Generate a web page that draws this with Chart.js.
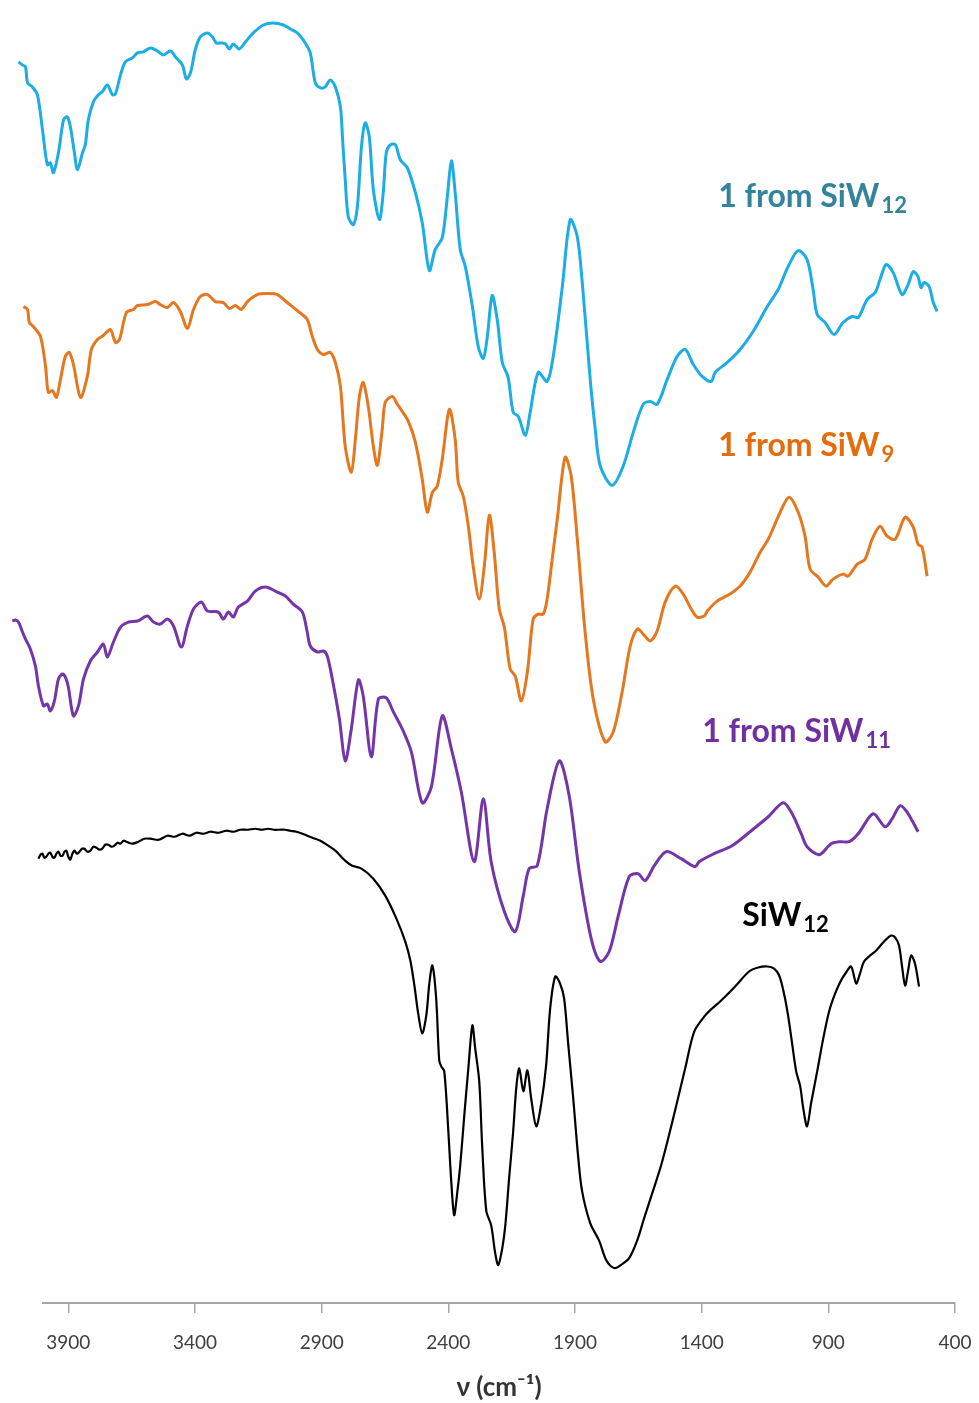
<!DOCTYPE html>
<html>
<head>
<meta charset="utf-8">
<script src="https://cdn.jsdelivr.net/npm/chart.js@4.4.1/dist/chart.umd.min.js"></script>
<style>
  html, body { margin: 0; padding: 0; background: #ffffff; }
  #wrap { width: 979px; height: 1403px; position: relative; }
</style>
</head>
<body>
<div id="wrap"><canvas id="ir"></canvas></div>
<script>
// FT-IR spectra, stacked with vertical offsets (transmittance, arbitrary units)
const tickWavenumbers = [3900, 3400, 2900, 2400, 1900, 1400, 900, 400];

// 1 from SiW12
const wnFromSiW12 = [4097,4081,4069,4061,4042,4022,4002,3983,3971,3959,3939,3919,3904,3892,3876,3864,3844,3833,3821,3801,3781,3766,3746,3726,3714,3694,3675,3647,3627,3604,3576,3549,3525,3497,3477,3450,3434,3418,3399,3379,3351,3331,3316,3292,3280,3264,3249,3225,3201,3170,3130,3091,3051,3024,2996,2965,2945,2925,2905,2886,2866,2846,2826,2818,2807,2795,2775,2759,2743,2728,2712,2696,2672,2657,2645,2629,2609,2590,2562,2530,2503,2475,2452,2424,2404,2388,2373,2353,2333,2305,2282,2262,2246,2227,2207,2187,2164,2144,2124,2096,2077,2045,2010,1986,1950,1919,1891,1868,1840,1820,1800,1753,1710,1670,1631,1603,1576,1536,1497,1465,1433,1398,1362,1347,1299,1248,1197,1141,1098,1059,1019,984,960,944,913,877,842,806,782,747,715,696,672,644,609,585,565,546,534,522,502,487,471];
const tFromSiW12 = [124.3,124.0,123.8,122.2,121.8,121.0,117.5,114.0,114.2,113.2,115.2,118.5,118.8,117.8,115.2,113.5,115.2,116.0,118.5,120.3,121.0,121.3,122.0,121.0,121.1,123.0,124.3,124.7,125.2,125.3,125.7,125.4,125.0,125.4,124.8,124.0,122.6,123.2,125.5,126.8,127.2,126.8,126.2,126.2,126.1,125.6,126.1,125.6,126.3,127.2,128.0,128.2,128.0,127.6,127.2,126.2,125.2,122.2,121.7,121.8,122.5,121.8,119.8,116.8,112.5,108.8,108.0,109.8,115.8,118.2,116.8,111.5,108.5,111.2,115.2,116.0,116.0,114.5,113.7,111.2,108.2,103.4,105.5,106.7,110.8,114.4,111.2,105.5,103.8,99.8,95.8,94.6,96.8,100.9,98.5,94.2,92.7,89.2,88.8,86.9,89.2,93.2,92.3,94.8,101.8,108.5,106.8,101.2,92.5,87.5,83.8,81.9,83.8,87.2,90.0,90.3,90.0,92.5,94.8,95.5,94.0,92.8,92.3,93.2,94.2,95.5,97.3,99.8,101.5,103.8,105.4,104.5,101.5,99.0,98.2,97.0,98.2,98.8,98.7,100.5,101.2,102.5,104.0,103.2,101.0,102.0,103.3,102.8,101.7,102.2,101.8,100.3,99.3];

// 1 from SiW9
const wnFromSiW9 = [4077,4061,4054,4038,4010,3990,3979,3963,3947,3931,3912,3896,3880,3852,3825,3809,3785,3762,3734,3714,3698,3671,3643,3627,3588,3556,3537,3509,3485,3458,3430,3406,3379,3351,3320,3288,3264,3241,3217,3193,3154,3114,3075,3036,2992,2957,2937,2917,2893,2866,2846,2826,2807,2783,2767,2751,2736,2716,2696,2680,2661,2649,2621,2601,2582,2558,2530,2503,2483,2463,2444,2424,2396,2373,2361,2341,2321,2302,2278,2258,2238,2219,2199,2179,2156,2136,2112,2088,2065,2045,2025,2010,1990,1970,1939,1915,1891,1860,1828,1781,1749,1714,1682,1654,1631,1603,1576,1544,1504,1473,1441,1418,1390,1378,1339,1288,1248,1209,1169,1137,1090,1055,1019,992,972,940,909,881,842,822,786,755,727,696,668,636,597,565,546,530,510];
const tFromSiW9 = [99.8,99.5,98.2,97.8,96.8,93.8,91.2,91.4,90.7,92.5,94.8,95.2,94.0,90.7,92.8,95.5,96.5,96.9,97.5,96.2,96.5,99.2,99.5,99.9,100.0,100.3,100.0,99.7,100.2,99.3,97.6,99.5,100.8,101.0,100.3,100.2,99.6,99.9,99.5,100.3,101.0,101.1,101.0,100.2,99.3,98.5,96.8,95.5,95.0,95.2,94.2,91.8,85.8,83.2,86.5,90.8,92.2,89.8,85.8,83.9,87.5,90.2,90.8,90.0,89.3,88.3,86.2,82.5,79.2,81.2,81.8,84.5,89.5,86.5,82.2,80.8,77.8,73.8,70.5,73.8,78.9,75.2,69.5,67.7,63.5,62.8,60.3,63.2,68.5,69.0,69.0,70.5,74.5,78.5,84.7,82.8,76.5,67.2,60.5,56.2,57.2,61.2,65.8,67.5,67.0,66.3,67.3,70.2,71.8,71.0,69.5,68.7,68.8,69.3,70.3,71.0,71.8,73.2,75.2,76.5,79.2,80.7,79.2,76.8,73.5,72.7,71.8,72.5,73.0,72.8,74.0,74.5,76.5,77.8,76.8,76.5,78.7,77.7,76.0,75.7,72.8];

// 1 from SiW11
const wnFromSiW11 = [4121,4109,4097,4081,4069,4050,4030,4018,3998,3983,3971,3955,3939,3923,3912,3900,3880,3860,3840,3813,3785,3762,3746,3722,3694,3663,3627,3588,3564,3537,3509,3485,3454,3430,3406,3375,3351,3308,3288,3268,3249,3229,3193,3162,3122,3083,3043,3012,2976,2957,2945,2917,2893,2878,2858,2830,2807,2783,2755,2736,2704,2676,2645,2617,2582,2546,2503,2467,2424,2388,2349,2298,2262,2231,2179,2136,2104,2081,2049,2010,1962,1923,1883,1836,1800,1765,1729,1686,1651,1623,1587,1540,1481,1426,1410,1351,1280,1209,1137,1078,1043,1007,984,936,889,853,818,782,723,676,648,617,593,569,546];
const tFromSiW11 = [68.3,68.4,68.2,67.2,66.5,65.5,63.8,61.8,59.8,60.0,59.3,60.3,62.5,63.0,62.7,61.7,58.8,59.8,62.5,64.3,65.2,66.0,64.7,66.2,67.7,68.2,68.3,68.8,68.2,68.0,68.5,67.8,65.7,67.8,69.5,70.2,69.3,69.2,68.5,69.2,68.7,69.7,70.3,71.3,71.7,71.3,70.8,70.0,69.2,67.2,65.8,65.2,65.3,64.8,62.5,58.5,54.3,57.5,62.4,60.8,54.7,60.5,60.6,59.2,57.5,55.2,50.1,51.7,58.8,55.5,51.2,44.2,50.5,44.2,39.2,37.2,40.8,43.5,43.8,49.5,54.3,50.8,43.2,36.5,34.2,35.2,38.8,42.7,43.0,42.3,43.8,45.2,44.5,43.7,44.2,45.0,45.8,47.2,48.7,50.1,49.0,47.0,45.7,44.9,46.0,46.2,46.2,47.0,49.0,47.7,48.5,49.8,49.3,48.3,47.2];

// SiW12 (noisy baseline above 3000 cm-1)
const wnSiW12 = [4018,4010,4002,3995,3987,3979,3971,3963,3955,3947,3939,3931,3923,3915,3908,3900,3892,3884,3876,3866,3856,3846,3837,3825,3813,3801,3789,3777,3766,3754,3742,3730,3718,3706,3694,3682,3671,3647,3623,3600,3576,3543,3509,3480,3450,3422,3395,3367,3339,3308,3276,3248,3221,3191,3162,3137,3111,3089,3067,3045,3024,3000,2976,2937,2905,2874,2846,2803,2779,2743,2696,2649,2605,2570,2550,2534,2519,2503,2487,2475,2463,2448,2436,2428,2416,2400,2388,2377,2365,2353,2337,2321,2305,2294,2278,2266,2250,2231,2215,2203,2187,2175,2160,2144,2132,2120,2104,2088,2073,2053,2033,2014,1998,1978,1959,1943,1927,1907,1887,1872,1840,1804,1777,1745,1714,1686,1654,1627,1595,1560,1532,1500,1465,1429,1386,1359,1327,1268,1213,1177,1141,1114,1094,1075,1059,1043,1027,1011,999,984,968,944,920,897,873,850,830,810,790,775,759,735,711,680,652,636,621,609,597,585,573,558,542];
const tSiW12 = [44.5,44.9,45.0,44.6,44.7,45.0,45.1,44.7,44.6,45.0,45.2,44.8,44.8,45.2,45.3,44.7,44.4,45.0,45.3,45.0,45.2,45.5,45.5,45.2,45.3,45.7,45.6,45.4,45.5,45.9,45.9,45.7,45.8,46.1,46.0,46.3,46.2,46.0,46.2,46.5,46.5,46.4,46.8,46.7,47.0,46.8,47.1,47.0,47.2,47.1,47.3,47.2,47.4,47.4,47.5,47.4,47.5,47.4,47.4,47.4,47.3,47.2,47.0,46.6,46.3,45.8,45.3,44.2,43.8,43.5,42.5,40.8,38.5,36.2,34.3,31.8,29.0,27.0,28.8,32.0,33.8,30.5,24.3,23.7,23.2,17.2,12.0,8.8,11.0,13.8,18.8,23.5,27.8,25.5,22.2,15.5,9.2,7.8,5.0,3.8,5.5,7.8,12.5,17.2,21.5,23.5,21.2,23.3,20.5,17.7,20.0,23.8,29.5,32.7,32.0,30.5,26.0,20.5,14.5,11.2,8.0,6.2,4.3,3.5,3.9,4.5,6.3,8.5,11.0,13.8,16.5,19.8,23.5,27.2,28.8,29.5,30.2,31.7,33.2,33.6,33.7,33.5,32.8,31.0,28.8,26.0,23.2,21.7,19.5,17.7,20.0,23.2,26.5,29.2,31.0,32.3,33.1,33.7,32.0,33.0,34.2,34.8,35.3,36.2,36.8,36.6,35.8,33.7,31.8,33.3,34.8,34.0,31.7];

// series names, colours and label anchors (wavenumber, baseline value)
const seriesNames = ['1 from SiW12', '1 from SiW9', '1 from SiW11', 'SiW12'];
const lineColors = ['#1CADE4', '#E5771E', '#7435A8', '#000000'];
const labelColors = ['#31849B', '#E46C0A', '#7030A0', '#000000'];
const labelMain = ['1 from SiW', '1 from SiW', '1 from SiW', 'SiW'];
const labelSub = ['12', '9', '11', '12'];
const labelWn = [1335, 1335, 1398, 1240];
const labelT = [109.8, 84.8, 56.2, 37.8];

const pairs = (xs, ys) => xs.map((x, i) => ({ x: x, y: ys[i] }));
const seriesData = [
  pairs(wnFromSiW12, tFromSiW12),
  pairs(wnFromSiW9, tFromSiW9),
  pairs(wnFromSiW11, tFromSiW11),
  pairs(wnSiW12, tSiW12)
];

const spectrumLabels = {
  id: 'spectrumLabels',
  afterDatasetsDraw(chart) {
    const ctx = chart.ctx;
    const xs = chart.scales.x, ys = chart.scales.y;
    ctx.save();
    ctx.textBaseline = 'alphabetic';
    ctx.textAlign = 'left';
    for (let i = 0; i < labelMain.length; i++) {
      const px = xs.getPixelForValue(labelWn[i]);
      const py = ys.getPixelForValue(labelT[i]);
      ctx.fillStyle = labelColors[i];
      ctx.font = 'bold 32px Lato';
      ctx.fillText(labelMain[i], px, py);
      const w = ctx.measureText(labelMain[i]).width;
      ctx.font = 'bold 22px Lato';
      ctx.fillText(labelSub[i], px + w + 2, py + 6);
    }
    ctx.restore();
  }
};

new Chart(document.getElementById('ir'), {
  type: 'line',
  data: {
    datasets: seriesData.map((d, i) => ({
      label: seriesNames[i],
      data: d,
      borderColor: lineColors[i],
      borderWidth: i === 3 ? 2.2 : 3,
      pointRadius: 0,
      tension: 0.3,
      fill: false,
      clip: false
    }))
  },
  options: {
    responsive: true,
    maintainAspectRatio: false,
    animation: false,
    layout: { padding: { left: 43, right: 24, top: 5, bottom: 0 } },
    plugins: { legend: { display: false }, tooltip: { enabled: false } },
    scales: {
      x: {
        type: 'linear',
        reverse: true,
        min: 400,
        max: 4000,
        afterBuildTicks: (scale) => { scale.ticks = tickWavenumbers.map(v => ({ value: v })); },
        // the end labels fit inside the fixed layout padding
        afterFit: (scale) => { scale.paddingLeft = 0; scale.paddingRight = 0; },
        grid: { drawOnChartArea: false, drawTicks: true, tickLength: 10, color: '#A6A6A6', lineWidth: 1.5 },
        border: { display: true, color: '#A6A6A6', width: 2 },
        ticks: {
          padding: 18,
          color: '#404040',
          font: { family: 'Lato', size: 19 },
          maxRotation: 0,
          autoSkip: false,
          callback: (v) => String(v)
        },
        title: {
          display: true,
          text: 'ν (cm⁻¹)',
          color: '#333333',
          font: { family: 'Lato', size: 26, weight: 'bold' },
          padding: { top: 0, bottom: 0 }
        }
      },
      y: {
        display: false,
        min: 0,
        max: 130
      }
    }
  },
  plugins: [spectrumLabels]
});
</script>
</body>
</html>
